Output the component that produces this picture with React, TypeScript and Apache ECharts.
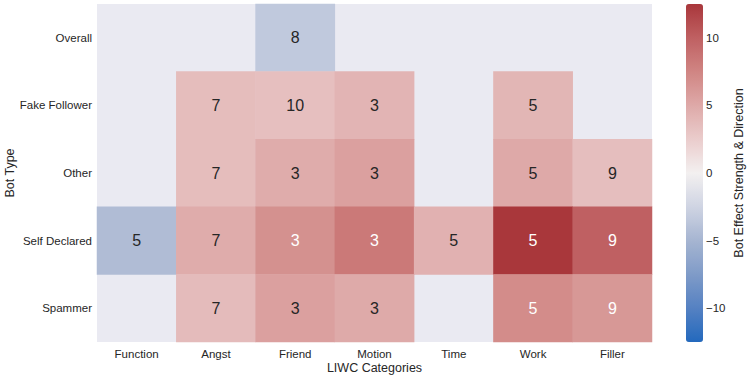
import React, { useEffect, useRef } from "react";
import * as echarts from "echarts";

const categories = ["Function", "Angst", "Friend", "Motion", "Time", "Work", "Filler"];
const botTypes = ["Overall", "Fake Follower", "Other", "Self Declared", "Spammer"];

// effect strength (color) per row, null = no effect
const effectOverall = [null, null, -3.4, null, null, null, null];
const effectFakeFollower = [null, 3.6, 3.4, 4.2, null, 4.1, null];
const effectOther = [null, 3.6, 4.8, 5.6, null, 5.0, 3.5];
const effectSelfDeclared = [-4.4, 4.8, 6.7, 8.3, 4.4, 12.5, 10.0];
const effectSpammer = [null, 3.7, 5.6, 4.9, null, 7.0, 6.2];

// annotation numbers per row
const annotOverall = [null, null, 8, null, null, null, null];
const annotFakeFollower = [null, 7, 10, 3, null, 5, null];
const annotOther = [null, 7, 3, 3, null, 5, 9];
const annotSelfDeclared = [5, 7, 3, 3, 5, 5, 9];
const annotSpammer = [null, 7, 3, 3, null, 5, 9];

const colorbarTicks = [-10, -5, 0, 5, 10];
const vlagColors = [
  "#2369bd", "#5581c2", "#7f9bc8", "#a6b5d1", "#cfd4e3", "#f3f0f0",
  "#eacccc", "#dea9a8", "#d08583", "#bf6062", "#a9373b",
];

const effects = [effectOverall, effectFakeFollower, effectOther, effectSelfDeclared, effectSpammer];
const annots = [annotOverall, annotFakeFollower, annotOther, annotSelfDeclared, annotSpammer];

const FONT = "'Liberation Sans', Arial, sans-serif";
const DARK = "#262626";

export default function App() {
  const ref = useRef<HTMLDivElement>(null);
  useEffect(() => {
    if (!ref.current) return;
    const chart = echarts.init(ref.current, undefined, { renderer: "svg" });
    const data: any[] = [];
    effects.forEach((row, yi) => {
      row.forEach((v, xi) => {
        if (v === null) return;
        data.push({
          value: [xi, yi, v, annots[yi][xi]],
          label: { color: v > 6 ? "#ffffff" : DARK },
        });
      });
    });
    chart.setOption({
      animation: false,
      backgroundColor: "#ffffff",
      textStyle: { fontFamily: FONT },
      grid: [
        { left: 97, top: 4, width: 555, height: 338, show: true, backgroundColor: "#eaeaf2", borderWidth: 0, outerBoundsMode: "none", containLabel: false },
        { left: 686, top: 4, width: 17, height: 338, show: false, outerBoundsMode: "none", containLabel: false },
      ],
      xAxis: [
        {
          type: "category",
          data: categories,
          gridIndex: 0,
          axisLine: { show: false },
          axisTick: { show: false },
          splitLine: { show: false },
          axisLabel: { color: DARK, fontSize: 11.5, margin: 6, fontFamily: FONT },
          name: "LIWC Categories",
          nameLocation: "middle",
          nameGap: 19,
          nameMoveOverlap: false,
          nameTextStyle: { color: DARK, fontSize: 12.5, fontFamily: FONT, verticalAlign: "top" },
        },
        { type: "value", gridIndex: 1, show: false, min: 0, max: 1 },
      ],
      yAxis: [
        {
          type: "category",
          data: botTypes,
          inverse: true,
          gridIndex: 0,
          axisLine: { show: false },
          axisTick: { show: false },
          splitLine: { show: false },
          axisLabel: { color: DARK, fontSize: 11.5, margin: 5, fontFamily: FONT },
          name: "Bot Type",
          nameLocation: "middle",
          nameGap: 81,
          nameRotate: 90,
          nameMoveOverlap: false,
          nameTextStyle: { color: DARK, fontSize: 12.5, fontFamily: FONT, verticalAlign: "bottom" },
        },
        {
          type: "value",
          gridIndex: 1,
          position: "right",
          min: -12.5,
          max: 12.5,
          axisLine: { show: false },
          splitLine: { show: false },
          axisTick: { show: true, length: 4, lineStyle: { color: DARK, width: 1 }, customValues: colorbarTicks },
          axisLabel: {
            show: true,
            color: DARK,
            fontSize: 11.5,
            margin: 3,
            fontFamily: FONT,
            customValues: colorbarTicks,
            formatter: (v: number) => (v < 0 ? "\u2212" + Math.abs(v) : String(v)),
          },
          name: "Bot Effect Strength & Direction",
          nameLocation: "middle",
          nameGap: 29,
          nameRotate: 90,
          nameTextStyle: { color: DARK, fontSize: 12.5, fontFamily: FONT, verticalAlign: "top" },
        },
      ],
      visualMap: {
        type: "continuous",
        min: -12.5,
        max: 12.5,
        dimension: 2,
        seriesIndex: 0,
        show: true,
        calculable: false,
        hoverLink: false,
        orient: "vertical",
        left: 686,
        top: 4,
        padding: 0,
        itemWidth: 17,
        itemHeight: 338,
        text: null,
        showLabel: false,
        inRange: { color: vlagColors },
      },
      series: [
        {
          type: "heatmap",
          xAxisIndex: 0,
          yAxisIndex: 0,
          data,
          label: {
            show: true,
            fontSize: 16,
            fontFamily: FONT,
            formatter: (p: any) => String(p.value[3]),
          },
          itemStyle: { borderWidth: 0 },
          emphasis: { disabled: true },
        },
      ],
    });
    return () => chart.dispose();
  }, []);
  return (
    <div
      ref={ref}
      style={{ position: "absolute", left: 0, top: 0, width: 748, height: 378 }}
    />
  );
}
